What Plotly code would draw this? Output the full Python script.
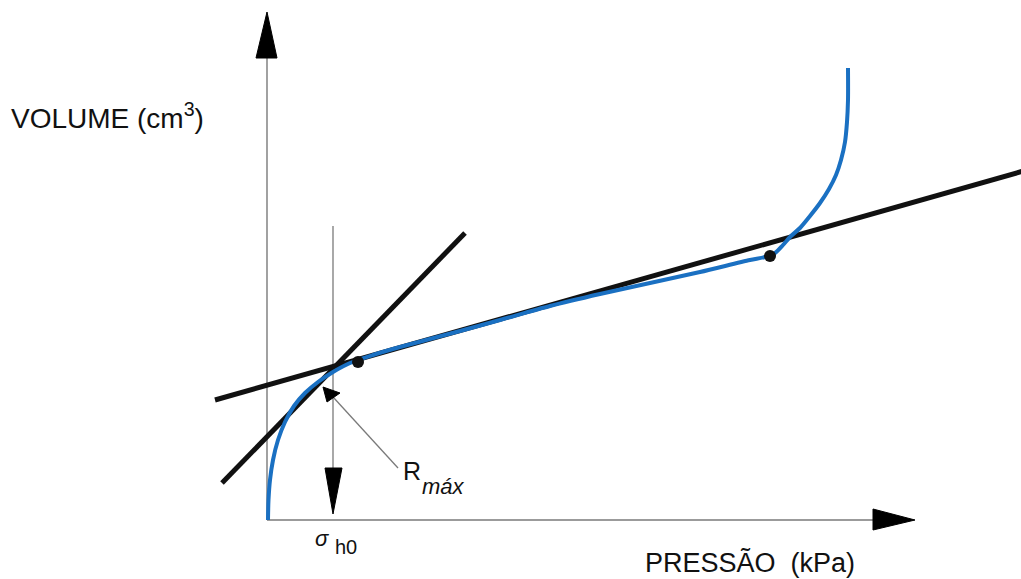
import plotly.graph_objects as go

# Pressuremeter curve: pressure vs. injected volume (schematic units)
pressure = [1, 1.5, 3, 6, 11, 18, 27, 38, 51, 66, 83, 106, 133, 193, 233, 283,
            333, 383, 433, 483, 498, 508, 516, 523, 533, 543, 553, 562, 569, 574,
            578, 580, 581, 581]
volume = [0, 20, 40, 60, 80, 98, 114, 127, 138, 148, 157, 165, 173, 189, 200,
          214, 226, 237, 248, 260, 263, 267, 275, 283, 292, 304, 317, 331, 345,
          360, 378, 398, 420, 452]

# Tangent lines (initial stiff branch and pseudo-elastic branch)
tangent_steep_p = [-45, 198]
tangent_steep_v = [37, 287]
tangent_flat_p = [-52, 760]
tangent_flat_v = [120, 350]

# Marked points on the curve
marker_p = [91, 503]
marker_v = [158, 264]

# sigma_h0 reference line
sigma_h0_p = 66
sigma_v_top = 294
sigma_v_arrow = 52

# Axis extents
x_axis_end = 606
y_axis_end = 462

# R_max pointer
rmax_line_p = [131, 66.5]
rmax_line_v = [52, 122.5]
rmax_head_p = [56, 60, 73, 56]
rmax_head_v = [133, 118, 127, 133]

FONT = "Liberation Sans, Arial, sans-serif"
BLUE = "#1a70c2"
GREY = "#7a7a7a"

fig = go.Figure()

def line(px, py, color, width):
    fig.add_trace(go.Scatter(x=px, y=py, mode="lines",
                             line=dict(color=color, width=width),
                             hoverinfo="skip", showlegend=False))

def triangle(px, py, color="black"):
    fig.add_trace(go.Scatter(x=px, y=py, mode="lines", fill="toself",
                             fillcolor=color, line=dict(color=color, width=1),
                             hoverinfo="skip", showlegend=False))

# Axes (thin lines with solid arrowheads)
line([0, 0], [0, y_axis_end], GREY, 1.4)
triangle([-11, 10, 0, -11], [y_axis_end, y_axis_end, y_axis_end + 46, y_axis_end])
line([0, x_axis_end], [0, 0], GREY, 1.4)
triangle([x_axis_end, x_axis_end, x_axis_end + 42, x_axis_end], [11, -10, 0, 11])

# sigma_h0 vertical and its down arrow
line([sigma_h0_p, sigma_h0_p], [sigma_v_top, sigma_v_arrow], GREY, 1.3)
triangle([sigma_h0_p - 8, sigma_h0_p + 9, sigma_h0_p, sigma_h0_p - 8],
         [sigma_v_arrow, sigma_v_arrow, 6, sigma_v_arrow])

# R_max pointer
line(rmax_line_p, rmax_line_v, GREY, 1.3)
triangle(rmax_head_p, rmax_head_v)

# Tangents
line(tangent_steep_p, tangent_steep_v, "#111111", 5)
line(tangent_flat_p, tangent_flat_v, "#111111", 5)

# Pressuremeter curve
fig.add_trace(go.Scatter(x=pressure, y=volume, mode="lines",
                         line=dict(color=BLUE, width=4, shape="spline", smoothing=0.8),
                         hoverinfo="skip", showlegend=False))

# Points
fig.add_trace(go.Scatter(x=marker_p, y=marker_v, mode="markers",
                         marker=dict(color="#111111", size=12),
                         hoverinfo="skip", showlegend=False))

def text(x, y, s, size, xanchor="center", italic=False):
    fig.add_annotation(x=x, y=y, text=s, showarrow=False, xanchor=xanchor,
                       yanchor="middle",
                       font=dict(family=FONT, size=size, color="#111111",
                                 style="italic" if italic else "normal"))

text(-258, 404, "VOLUME (cm<sup>3</sup>)", 28, xanchor="left")
text(483, -42, "PRESSÃO  (kPa)", 27)
text(55, -18, "σ", 22, italic=True)
text(79, -27, "h0", 20)
text(145, 49, "R", 25)
text(176, 34, "máx", 22, italic=True)

fig.update_layout(
    width=1021, height=579,
    margin=dict(l=0, r=0, t=0, b=0),
    paper_bgcolor="white", plot_bgcolor="white",
    xaxis=dict(range=[-267, 754], visible=False, fixedrange=True),
    yaxis=dict(range=[-59, 520], visible=False, fixedrange=True),
)

fig.write_html("out.html")
